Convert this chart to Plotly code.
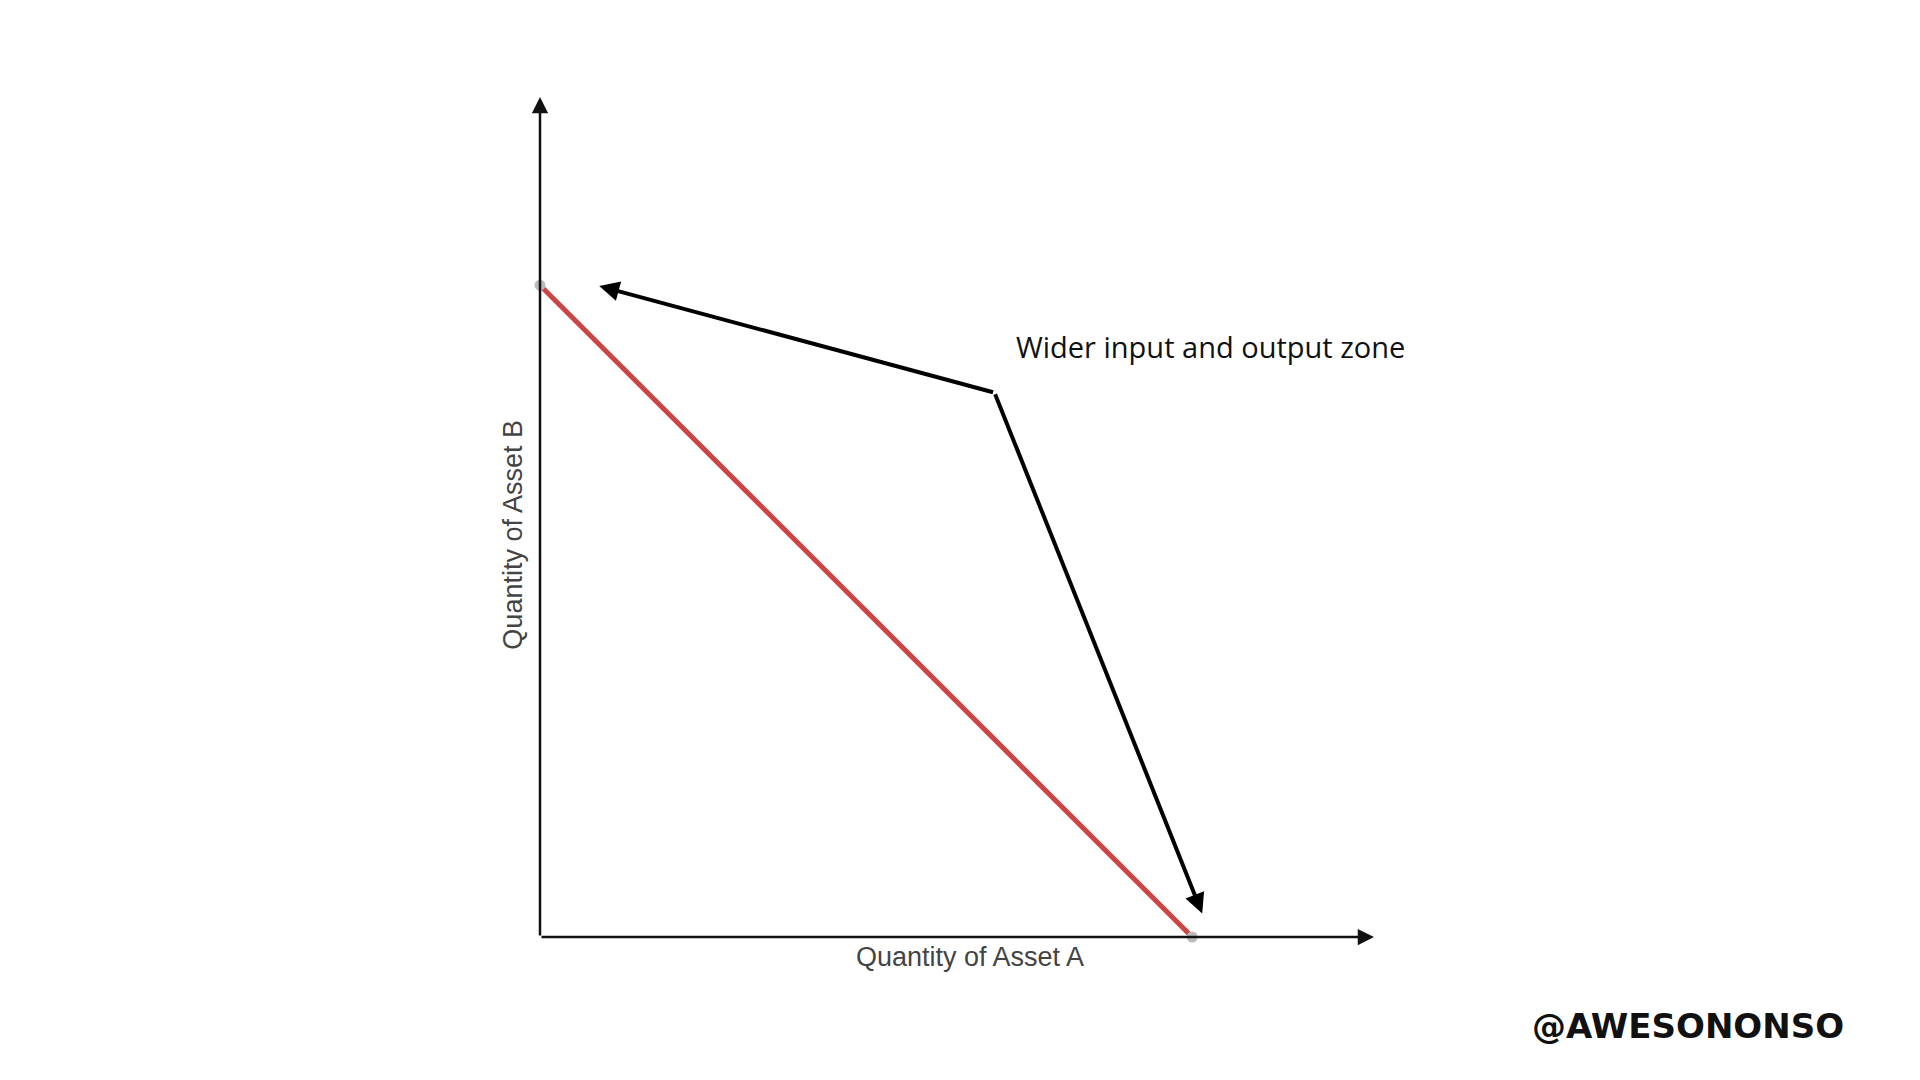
import plotly.graph_objects as go

# constant-sum curve: quantity of asset A vs asset B
asset_a = [0, 78.2]
asset_b = [77.6, 0]
label_text = "Wider input and output zone"
label_pos = (54.5, 64.8)
tip_top = (7.1, 77.5)
tip_bottom = (79.4, 2.8)

fig = go.Figure()
fig.add_trace(go.Scatter(x=asset_a, y=asset_b, mode='lines', cliponaxis=False,
                         line=dict(color='#cc4444', width=5), showlegend=False))
fig.add_trace(go.Scatter(x=asset_a, y=asset_b, mode='markers', cliponaxis=False,
                         marker=dict(color='#bbbbbb', size=11), showlegend=False))

ann = []
# axes with arrowheads
for end in ((0, 100), (100, 0)):
    ann.append(dict(x=end[0], y=end[1], ax=0, ay=0, xref='x', yref='y', axref='x', ayref='y',
                    showarrow=True, arrowhead=2, arrowsize=1.3, arrowwidth=2.5,
                    arrowcolor='#111', text=''))
# pointers to the ends of the curve
for tip in (tip_top, tip_bottom):
    ann.append(dict(x=tip[0], y=tip[1], ax=label_pos[0], ay=label_pos[1],
                    xref='x', yref='y', axref='x', ayref='y', showarrow=True,
                    arrowhead=2, arrowsize=1, arrowwidth=4, arrowcolor='#000', text=''))
ann.append(dict(x=56.8, y=70.3, xref='x', yref='y', text=label_text, showarrow=False,
                xanchor='left', font=dict(family='Open Sans', size=29, color='#111')))
ann.append(dict(x=0.516, y=-0.003, xref='paper', yref='paper', text='Quantity of Asset A',
                showarrow=False, yanchor='top',
                font=dict(family='Liberation Sans', size=27, color='#444')))
ann.append(dict(x=-0.012, y=0.479, xref='paper', yref='paper', text='Quantity of Asset B',
                showarrow=False, textangle=-90, xanchor='right',
                font=dict(family='Liberation Sans', size=27, color='#444')))
ann.append(dict(x=(1680 - 532) / 834, y=-(1040 - 929) / 840, xref='paper', yref='paper',
                text='<b>@AWESONONSO</b>', showarrow=False, xanchor='center',
                font=dict(family='DejaVu Sans', size=34, color='#111')))

fig.update_layout(
    width=1920, height=1080,
    margin=dict(l=532, r=554, t=89, b=151),
    paper_bgcolor='white', plot_bgcolor='white',
    xaxis=dict(range=[0, 100], visible=False, fixedrange=True),
    yaxis=dict(range=[0, 100], visible=False, fixedrange=True),
    annotations=ann,
)
fig.write_html("out.html")
